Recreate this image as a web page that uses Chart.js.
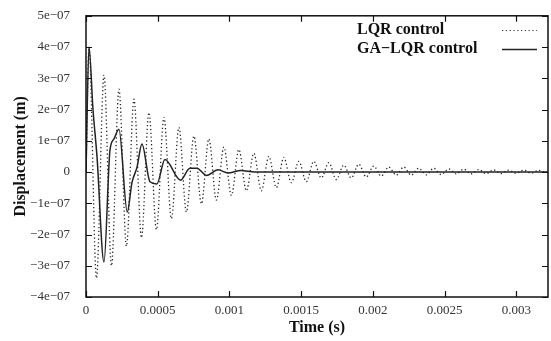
<!DOCTYPE html>
<html>
<head>
<meta charset="utf-8">
<script src="https://cdn.jsdelivr.net/npm/chart.js@4.4.1/dist/chart.umd.min.js"></script>
<style>
  body { margin: 0; background: #fff; }
  canvas { display: block; }
</style>
</head>
<body>
<canvas id="grafica" width="551" height="341"></canvas>
<script>
// Datos (tiempo en s, desplazamiento en m)
var nombreLQR = 'LQR control';
var nombreGA = 'GA\u2212LQR control';

var tiempoLQR = [0, 0.0000209, 0.0000731, 0.0001253, 0.0001776, 0.0002298, 0.0002820, 0.0003343,
  0.0003865, 0.0004387, 0.0004909, 0.0005432, 0.0005954, 0.0006476, 0.0006999, 0.0007521,
  0.0008043, 0.0008565, 0.0009088, 0.0009610, 0.0010132, 0.0010655, 0.0011177, 0.0011699,
  0.0012221, 0.0012744, 0.0013266, 0.0013788, 0.0014311, 0.0014833, 0.0015355, 0.0015877,
  0.0016400, 0.0016922, 0.0017444, 0.0017967, 0.0018489, 0.0019011, 0.0019533, 0.0020056,
  0.0020578, 0.0021100, 0.0021623, 0.0022145, 0.0022667, 0.0023189, 0.0023712, 0.0024234,
  0.0024756, 0.0025279, 0.0025801, 0.0026323, 0.0026845, 0.0027368, 0.0027890, 0.0028412,
  0.0028935, 0.0029457, 0.0029979, 0.0030501, 0.0031024, 0.0031546, 0.0032068];
var despLQR = [0, 4.0e-7, -3.4e-7, 3.1e-7, -3.0e-7, 2.65e-7, -2.37e-7, 2.33e-7,
  -2.1e-7, 1.9e-7, -1.84e-7, 1.75e-7, -1.49e-7, 1.43e-7, -1.28e-7, 1.15e-7,
  -1.02e-7, 1.06e-7, -0.9e-7, 0.8e-7, -0.75e-7, 0.72e-7, -0.6e-7, 0.6e-7,
  -0.6e-7, 0.5e-7, -0.5e-7, 0.47e-7, -0.34e-7, 0.34e-7, -0.31e-7, 0.34e-7,
  -0.19e-7, 0.3e-7, -0.24e-7, 0.22e-7, -0.19e-7, 0.25e-7, -0.16e-7, 0.19e-7,
  -0.13e-7, 0.16e-7, -0.1e-7, 0.16e-7, -0.1e-7, 0.12e-7, -0.09e-7, 0.12e-7,
  -0.08e-7, 0.1e-7, -0.06e-7, 0.09e-7, -0.06e-7, 0.08e-7, -0.05e-7, 0.07e-7,
  -0.05e-7, 0.06e-7, -0.04e-7, 0.06e-7, -0.04e-7, 0.05e-7, -0.03e-7];

var tiempoGA = [0, 0.0000209, 0.0000487, 0.0000766, 0.0001253, 0.0001671, 0.0001950, 0.0002298,
  0.0002876, 0.0003203, 0.0003552, 0.0003900, 0.0004457, 0.0004944, 0.0005501, 0.0006595,
  0.0007242, 0.0007730, 0.0008405, 0.0009192, 0.0009889, 0.0010794, 0.0011769, 0.0015,
  0.002, 0.0025, 0.003, 0.00322];
var despGA = [0, 4.0e-7, 2.0e-7, 0.5e-7, -2.88e-7, 0.7e-7, 1.06e-7, 1.37e-7,
  -1.28e-7, -0.34e-7, 0.15e-7, 0.9e-7, -0.31e-7, -0.38e-7, 0.4e-7, -0.26e-7,
  0.12e-7, 0.12e-7, -0.11e-7, 0.07e-7, -0.03e-7, 0.05e-7, 0, 0,
  0, 0, 0, 0];

var ticksX = [0, 0.0005, 0.001, 0.0015, 0.002, 0.0025, 0.003];
var ticksY = [-4e-7, -3e-7, -2e-7, -1e-7, 0, 1e-7, 2e-7, 3e-7, 4e-7, 5e-7];

function puntos(xs, ys) {
  return xs.map(function(x, i) { return {x: x, y: ys[i]}; });
}

function etiquetaY(v) {
  var n = Math.round(v * 1e7);
  if (n === 0) return '0';
  return (n < 0 ? '\u2212' : '') + Math.abs(n) + 'e\u221207';
}

var fuente = 'Liberation Serif';

// Marco, marcas hacia adentro y leyenda como en la figura original
var marcoPlugin = {
  id: 'marco',
  afterDraw: function(chart) {
    var ctx = chart.ctx;
    var a = chart.chartArea;
    var sx = chart.scales.x, sy = chart.scales.y;
    ctx.save();
    ctx.strokeStyle = '#111';
    ctx.lineWidth = 1.5;
    ctx.strokeRect(a.left, a.top, a.right - a.left, a.bottom - a.top);
    ctx.lineWidth = 1.2;
    ctx.beginPath();
    ticksY.forEach(function(v) {
      var y = Math.round(sy.getPixelForValue(v)) + 0.5;
      ctx.moveTo(a.left, y); ctx.lineTo(a.left + 6, y);
      ctx.moveTo(a.right, y); ctx.lineTo(a.right - 6, y);
    });
    ticksX.forEach(function(v) {
      var x = Math.round(sx.getPixelForValue(v)) + 0.5;
      ctx.moveTo(x, a.bottom); ctx.lineTo(x, a.bottom - 6);
      ctx.moveTo(x, a.top); ctx.lineTo(x, a.top + 6);
    });
    ctx.stroke();

    // leyenda
    ctx.fillStyle = '#111';
    ctx.font = 'bold 16px "' + fuente + '"';
    ctx.textAlign = 'left';
    ctx.textBaseline = 'middle';
    ctx.fillText(nombreLQR, 357, 30);
    ctx.fillText(nombreGA, 357, 49);
    ctx.strokeStyle = '#333';
    ctx.lineWidth = 1.2;
    ctx.setLineDash([1.2, 2.6]);
    ctx.beginPath(); ctx.moveTo(502, 30.5); ctx.lineTo(537, 30.5); ctx.stroke();
    ctx.setLineDash([]);
    ctx.lineWidth = 1.5;
    ctx.strokeStyle = '#222';
    ctx.beginPath(); ctx.moveTo(502, 49.5); ctx.lineTo(537, 49.5); ctx.stroke();
    ctx.restore();
  }
};

var ctx = document.getElementById('grafica').getContext('2d');
new Chart(ctx, {
  type: 'line',
  data: {
    datasets: [{
      label: nombreLQR,
      data: puntos(tiempoLQR, despLQR),
      borderColor: '#2a2a2a',
      borderWidth: 1.3,
      borderDash: [1.3, 2.5],
      pointRadius: 0,
      cubicInterpolationMode: 'monotone',
      fill: false
    }, {
      label: nombreGA,
      data: puntos(tiempoGA, despGA),
      borderColor: '#222',
      borderWidth: 1.5,
      pointRadius: 0,
      cubicInterpolationMode: 'monotone',
      fill: false
    }]
  },
  options: {
    responsive: false,
    animation: false,
    devicePixelRatio: 1,
    layout: { padding: { top: 8, right: 3, left: 0, bottom: 0 } },
    plugins: {
      legend: { display: false },
      tooltip: { enabled: false }
    },
    scales: {
      x: {
        type: 'linear',
        min: 0,
        max: 0.00322,
        grid: { display: false },
        border: { display: false },
        afterBuildTicks: function(s) { s.ticks = ticksX.map(function(v) { return {value: v}; }); },
        afterFit: function(s) { s.height = 44; },
        ticks: {
          padding: -2,
          maxRotation: 0,
          color: '#333',
          font: { family: fuente, size: 13 },
          callback: function(v) { return String(v); }
        },
        title: {
          display: true,
          text: 'Time (s)',
          color: '#111',
          font: { family: fuente, size: 16, weight: 'bold' },
          padding: { top: 0, bottom: 4 }
        }
      },
      y: {
        type: 'linear',
        min: -4e-7,
        max: 5e-7,
        grid: { display: false },
        border: { display: false },
        afterBuildTicks: function(s) { s.ticks = ticksY.map(function(v) { return {value: v}; }); },
        afterFit: function(s) { s.width = 86; },
        ticks: {
          padding: 8,
          color: '#333',
          font: { family: fuente, size: 13 },
          callback: etiquetaY
        },
        title: {
          display: true,
          text: 'Displacement (m)',
          color: '#111',
          font: { family: fuente, size: 16, weight: 'bold' },
          padding: { top: 11, bottom: 0 }
        }
      }
    }
  },
  plugins: [marcoPlugin]
});
</script>
</body>
</html>
